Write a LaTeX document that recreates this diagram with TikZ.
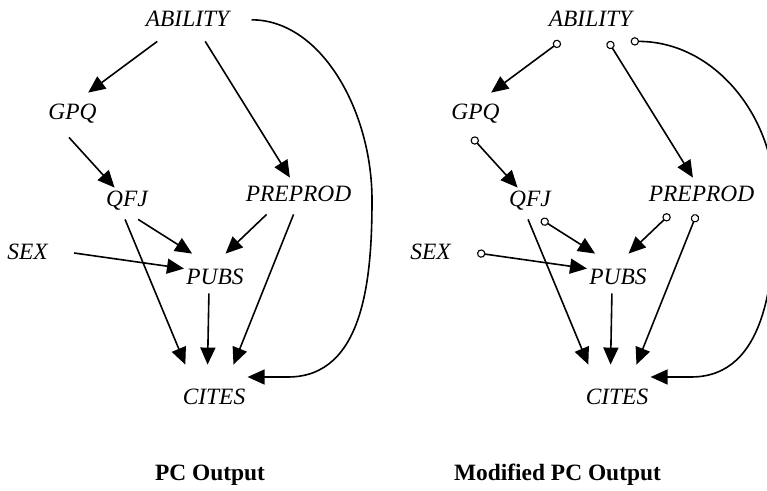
\documentclass[tikz,border=0pt]{standalone}
\usepackage{fontspec}
\setmainfont{Liberation Serif}
\usetikzlibrary{arrows.meta,positioning}
\tikzset{
    varnodo/.style={
        font=\fontsize{11.7}{14}\selectfont\itshape, % nombres de variables en cursiva
        anchor=base,          % se coloca por la línea base del texto
        inner xsep=1pt,       % casi sin margen lateral
        inner ysep=0pt,
        text height=8pt,      % alto y fondo se ajustan nodo a nodo
        text depth=1pt
    },
    dirigida/.style={
        -{Triangle[length=8.5pt,width=7.5pt]}, % punta triangular rellena
        line width=0.8pt
    },
    marcada/.style={
        {Circle[open,length=4.2pt,width=4.2pt,line width=0.55pt]}-{Triangle[length=8.5pt,width=7.5pt]}, % cola con circulito
        line width=0.8pt
    },
    titulo/.style={
        font=\fontsize{11.7}{14}\selectfont\bfseries, % rótulo en negrita
        anchor=base
    }
}
\begin{document}
\begin{tikzpicture}[x=0.5pt,y=-0.5pt]
    \useasboundingbox (0,0) rectangle (767,491);
    % salida del PC
    \node[varnodo, text depth=7pt] (ability) at (187.5,27) {ABILITY};
    \node[varnodo, text height=13.5pt, text depth=8.5pt] (gpq) at (72.5,120) {GPQ};
    \node[varnodo, text height=9.5pt, text depth=6pt] (qfj) at (127,207) {QFJ};
    \node[varnodo, text height=12pt, text depth=6pt] (preprod) at (298.5,202) {PREPROD};
    \node[varnodo, inner xsep=13pt] (sex) at (27.5,260) {SEX};
    \node[varnodo, text height=15.5pt, text depth=4pt] (pubs) at (215,285) {PUBS};
    \node[varnodo, text height=20pt, text depth=2pt] (cites) at (214,405) {CITES};
    \coordinate (vuelta) at (372,200);
    \coordinate (codo) at (288,377);
    \draw[dirigida] (ability.-153) -- (gpq.55);
    \draw[dirigida] (ability.-41) -- (preprod.115);
    \draw[dirigida] (gpq.-99) -- (qfj.128);
    \draw[dirigida] (qfj.-55) -- (pubs.139);
    \draw[dirigida] (qfj.-97) -- (cites.142);
    \draw[dirigida] (preprod.-150) -- (pubs.62);
    \draw[dirigida] (preprod.-105) -- (cites.49);
    \draw[dirigida] (sex.east) -- (pubs.171);
    \draw[dirigida] (pubs.-107) -- (cites.106);
    \draw[dirigida, shorten <=10pt] (ability.8) to[out=0,in=90] (vuelta) to[out=-90,in=0] (codo) -- (codo -| cites.east);
    \node[titulo] (pc) at (210,481) {PC Output};
    % salida del PC modificado
    \begin{scope}[xshift=201.5pt]
        \node[varnodo, text depth=7pt] (abilitym) at (187.5,27) {ABILITY};
        \node[varnodo, text height=13.5pt, text depth=8.5pt] (gpqm) at (72.5,120) {GPQ};
        \node[varnodo, text height=9.5pt, text depth=6pt] (qfjm) at (127,207) {QFJ};
        \node[varnodo, text height=12pt, text depth=6pt] (preprodm) at (298.5,202) {PREPROD};
        \node[varnodo, inner xsep=13pt] (sexm) at (27.5,260) {SEX};
        \node[varnodo, text height=15.5pt, text depth=4pt] (pubsm) at (215,285) {PUBS};
        \node[varnodo, text height=20pt, text depth=2pt] (citesm) at (214,405) {CITES};
        \coordinate (vueltam) at (372,200);
        \coordinate (codom) at (288,377);
        \draw[marcada] (abilitym.-153) -- (gpqm.55);
        \draw[marcada] (abilitym.-41) -- (preprodm.115);
        \draw[marcada] (gpqm.-99) -- (qfjm.128);
        \draw[marcada] (qfjm.-55) -- (pubsm.139);
        \draw[dirigida] (qfjm.-97) -- (citesm.142);
        \draw[marcada] (preprodm.-150) -- (pubsm.62);
        \draw[marcada] (preprodm.-105) -- (citesm.49);
        \draw[marcada] (sexm.east) -- (pubsm.171);
        \draw[dirigida] (pubsm.-107) -- (citesm.106);
        \draw[marcada] (abilitym.-21) to[out=0,in=90] (vueltam) to[out=-90,in=0] (codom) -- (codom -| citesm.east);
    \end{scope}
    \node[titulo] (pcmod) at (557.5,481) {Modified PC Output};
\end{tikzpicture}
\end{document}
